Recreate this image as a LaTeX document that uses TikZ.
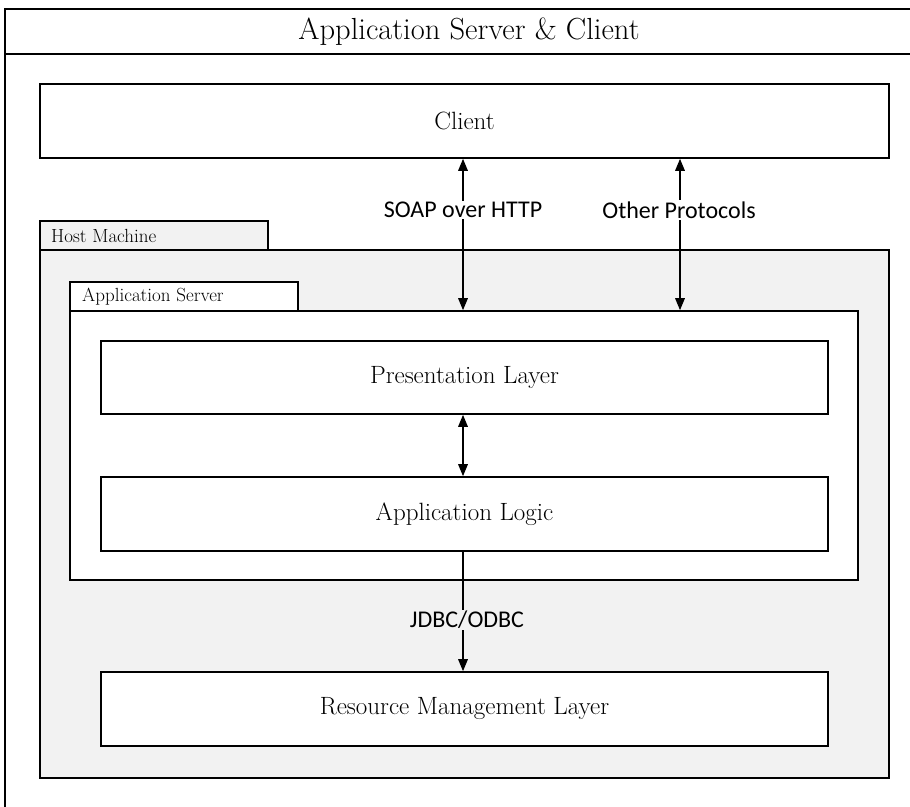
\documentclass[tikz,border=0pt]{standalone}
\usepackage{fontspec}
\newfontfamily\labelfont{Carlito}
\usetikzlibrary{arrows.meta}
\definecolor{panelgray}{HTML}{F2F2F2}
\tikzset{
  layerbox/.style={draw=black, line width=1.6pt, fill=white, inner sep=0pt,
    font=\fontsize{25}{29}\selectfont},
  tabbox/.style={draw=black, line width=1.6pt, inner sep=0pt},
  tabtext/.style={anchor=west, inner sep=0pt, font=\fontsize{19}{22}\selectfont},
  tip/.tip={Triangle[length=12pt,width=9.5pt]},
  link/.style={line width=1.6pt, tip-tip},
  onelink/.style={line width=1.6pt, -tip},
  proto/.style={inner sep=1.5pt, font=\labelfont\fontsize{24}{28}\selectfont}
}
\begin{document}
\begin{tikzpicture}[x=1pt,y=-1pt]
\useasboundingbox (0,0) rectangle (910,806);
% outer frame with title strip
\draw[line width=1.2pt] (5,810) -- (5,9) -- (915,9);
\draw[line width=1.6pt] (5,54) -- (915,54);
\node (title) at (469,32) {\fontsize{30.5}{34}\selectfont Application Server \& Client};

% client
\node[layerbox, minimum width=849pt, minimum height=74pt] (client) at (464.5,121) {Client};

% host machine
\node[tabbox, fill=panelgray, minimum width=228pt, minimum height=29pt] (hosttab) at (154,235.5) {};
\node[tabtext] (hostlabel) at (51,236) {Host Machine};
\node[tabbox, fill=panelgray, minimum width=849pt, minimum height=528pt] (host) at (464.5,514) {};

% application server
\node[tabbox, fill=white, minimum width=228pt, minimum height=29pt] (srvtab) at (184,296.5) {};
\node[tabtext] (srvlabel) at (82,297) {Application Server};
\node[tabbox, fill=white, minimum width=788pt, minimum height=269pt] (srv) at (464,445.5) {};

% layers
\node[layerbox, minimum width=727pt, minimum height=73pt] (pres) at (464.5,377.5) {Presentation Layer};
\node[layerbox, minimum width=727pt, minimum height=74pt] (logic) at (464.5,514) {Application Logic};
\node[layerbox, minimum width=727pt, minimum height=74pt] (res) at (464.5,709) {Resource Management Layer};

% connectors
\coordinate (soapx) at (463,0);
\coordinate (otherx) at (680,0);
\draw[link] (soapx |- client.south) -- (soapx |- srv.north);
\draw[link] (otherx |- client.south) -- (otherx |- srv.north);
\node[proto, fill=white] (soap) at (463,210) {SOAP over HTTP};
\node[proto, fill=white] (other) at (679,210) {Other Protocols};
\draw[link] (soapx |- pres.south) -- (soapx |- logic.north);
\draw[onelink] (soapx |- logic.south) -- (soapx |- res.north);
\node[proto, fill=panelgray] (jdbc) at (467,620) {JDBC/ODBC};
\end{tikzpicture}
\end{document}
